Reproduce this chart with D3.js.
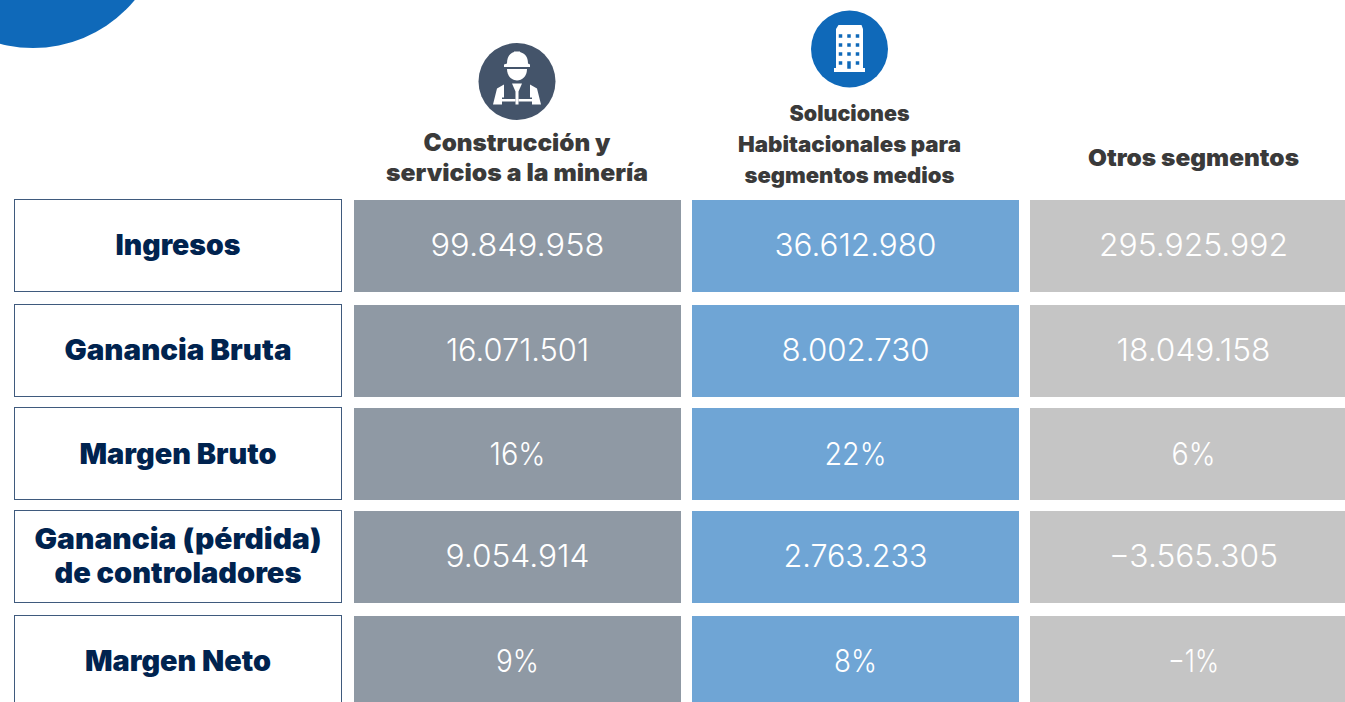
<!DOCTYPE html>
<html>
<head>
<meta charset="utf-8">
<script src="https://cdn.jsdelivr.net/npm/d3@7"></script>
<style>
  html, body { margin: 0; padding: 0; background: #fff; overflow: hidden; }
  text { font-family: "Inter", "Noto Sans", sans-serif; }
</style>
</head>
<body>
<div id="chart"></div>
<script>
// Data
const metrics = ["Ingresos", "Ganancia Bruta", "Margen Bruto", "Ganancia (pérdida)|de controladores", "Margen Neto"];
const segments = ["Construcción y|servicios a la minería", "Soluciones|Habitacionales para|segmentos medios", "Otros segmentos"];
const construccion = ["99.849.958", "16.071.501", "16%", "9.054.914", "9%"];
const habitacional = ["36.612.980", "8.002.730", "22%", "2.763.233", "8%"];
const otros = ["295.925.992", "18.049.158", "6%", "−3.565.305", "−1%"];
const series = [construccion, habitacional, otros];

const width = 1345, height = 702;
const cellW = 327, cellH = 92;
const colors = ["#8f99a4", "#6fa5d5", "#c5c5c5"];

// Rendered widths, the installed fonts run narrower than the original one
const metricWidths = [[125], [227], [197], [287, 247], [186]];
const valueWidths = [[174, 143, 56, 144, 43], [162, 148, 62, 144, 43], [189, 154, 44, 169, 51]];
const headerWidths = [[187, 262], [120, 223, 210], [211]];

// Row and column positions
const yScale = d3.scaleOrdinal().domain(metrics).range([200, 305, 408, 511, 616]);
const xScale = d3.scaleOrdinal().domain(segments).range([354, 692, 1030]);
// Text sits a touch lower in the third row
const textShift = [0, 0, 1, 0, 0];

const svg = d3.select("#chart").append("svg")
    .attr("width", width)
    .attr("height", height)
    .style("display", "block");

// Corner decoration
svg.append("circle")
    .attr("cx", 33).attr("cy", -84).attr("r", 132)
    .attr("fill", "#0f69b9");

// Left column: metric name boxes
const rows = svg.selectAll("g.row")
    .data(metrics)
    .join("g")
    .attr("class", "row")
    .attr("transform", d => `translate(14,${yScale(d)})`);

rows.append("rect")
    .attr("x", 0.5).attr("y", -0.5)
    .attr("width", cellW).attr("height", cellH)
    .attr("fill", "#fff")
    .attr("stroke", "#3f5a7d");

rows.each(function(d, r) {
    const lines = d.split("|");
    const lineH = 34;
    d3.select(this).selectAll("text")
        .data(lines)
        .join("text")
        .attr("x", cellW / 2 + 0.5)
        .attr("y", (l, i) => cellH / 2 + 9 + textShift[r] + (i - (lines.length - 1) / 2) * lineH)
        .attr("text-anchor", "middle")
        .attr("font-size", 28)
        .attr("font-weight", 900)
        .attr("fill", "#00234f")
        .attr("textLength", (l, i) => metricWidths[r][i])
        .attr("lengthAdjust", "spacingAndGlyphs")
        .text(l => l);
});

// Value cells
segments.forEach((seg, s) => {
    const g = svg.append("g").attr("class", "col");
    g.selectAll("rect")
        .data(metrics)
        .join("rect")
        .attr("x", xScale(seg))
        .attr("y", d => yScale(d))
        .attr("width", cellW)
        .attr("height", cellH)
        .attr("fill", colors[s]);
    g.selectAll("text")
        .data(metrics)
        .join("text")
        .attr("x", xScale(seg) + cellW / 2)
        .attr("y", (d, i) => yScale(d) + cellH / 2 + 10 + textShift[i])
        .attr("text-anchor", "middle")
        .attr("font-size", 31)
        .attr("font-weight", 300)
        .attr("fill", "#fff")
        .attr("textLength", (d, i) => valueWidths[s][i])
        .attr("lengthAdjust", "spacingAndGlyphs")
        .text((d, i) => series[s][i]);
});

// Column headers
const headerBottom = [181, 183, 166];
const headerX = [517, 849.5, 1193.5];
const headerLine = [30, 31, 30];
const headerSize = [24, 21.5, 23.5];
segments.forEach((seg, s) => {
    const lines = seg.split("|");
    svg.append("g").selectAll("text")
        .data(lines)
        .join("text")
        .attr("x", headerX[s])
        .attr("y", (l, i) => headerBottom[s] - (lines.length - 1 - i) * headerLine[s])
        .attr("text-anchor", "middle")
        .attr("font-size", headerSize[s])
        .attr("font-weight", 900)
        .attr("fill", "#3a3a3a")
        .attr("textLength", (l, i) => headerWidths[s][i])
        .attr("lengthAdjust", "spacingAndGlyphs")
        .text(l => l);
});

// Worker icon
const worker = svg.append("g").attr("transform", "translate(517,81.5)");
worker.append("circle").attr("r", 38.5).attr("fill", "#44546a");
worker.append("path").attr("fill", "#fff")
    .attr("d", "M-10,-18 C-10,-25 -7,-28 -3,-29.5 L-3,-30 L3,-30 L3,-29.5 C8,-28 11,-25 11,-18 L13,-17 L13,-14.5 L-13,-14.5 L-13,-17 Z");
worker.append("path").attr("fill", "#fff")
    .attr("d", "M-10,-12.5 L10,-12.5 C10,-5 5,-1 0,-1 C-5,-1 -10,-5 -10,-12.5 Z");
worker.append("path").attr("fill", "#fff")
    .attr("d", "M-24,23 L-20,7 L-13,3 L-13,16 L-15,16 L-15,23 Z");
worker.append("path").attr("fill", "#fff")
    .attr("d", "M24,23 L20,7 L13,3 L13,16 L15,16 L15,23 Z");
worker.append("path").attr("fill", "#fff")
    .attr("d", "M-5,2 L5,2 L1.5,10 L1.5,23 L-1.5,23 L-1.5,10 Z");
worker.append("path").attr("fill", "#fff")
    .attr("d", "M-15,17.5 L-1.5,17.5 L-1.5,20 L-15,20 Z M1.5,17.5 L15,17.5 L15,20 L1.5,20 Z");

// Building icon
const windowX = [-9, -0.5, 8];
const windowY = [-13, -4, 5, 14];
const building = svg.append("g").attr("transform", "translate(849.5,49)");
building.append("circle").attr("r", 38.5).attr("fill", "#0f69b9");
building.append("path").attr("fill", "#fff")
    .attr("d", "M-13.5,19 L-13.5,-20 L-11,-24 L12,-24 L13.5,-20 L13.5,19 L15.5,19 L15.5,23 L-15.5,23 L-15.5,19 Z");
windowY.forEach(wy => {
    building.append("g").selectAll("rect")
        .data(windowX)
        .join("rect")
        .attr("x", d => d - 1.75)
        .attr("y", wy - 1.75)
        .attr("width", 3.5)
        .attr("height", (d, i) => (wy === 14 && i === 1) ? 7.5 : 3.5)
        .attr("fill", "#0f69b9");
});
</script>
</body>
</html>
